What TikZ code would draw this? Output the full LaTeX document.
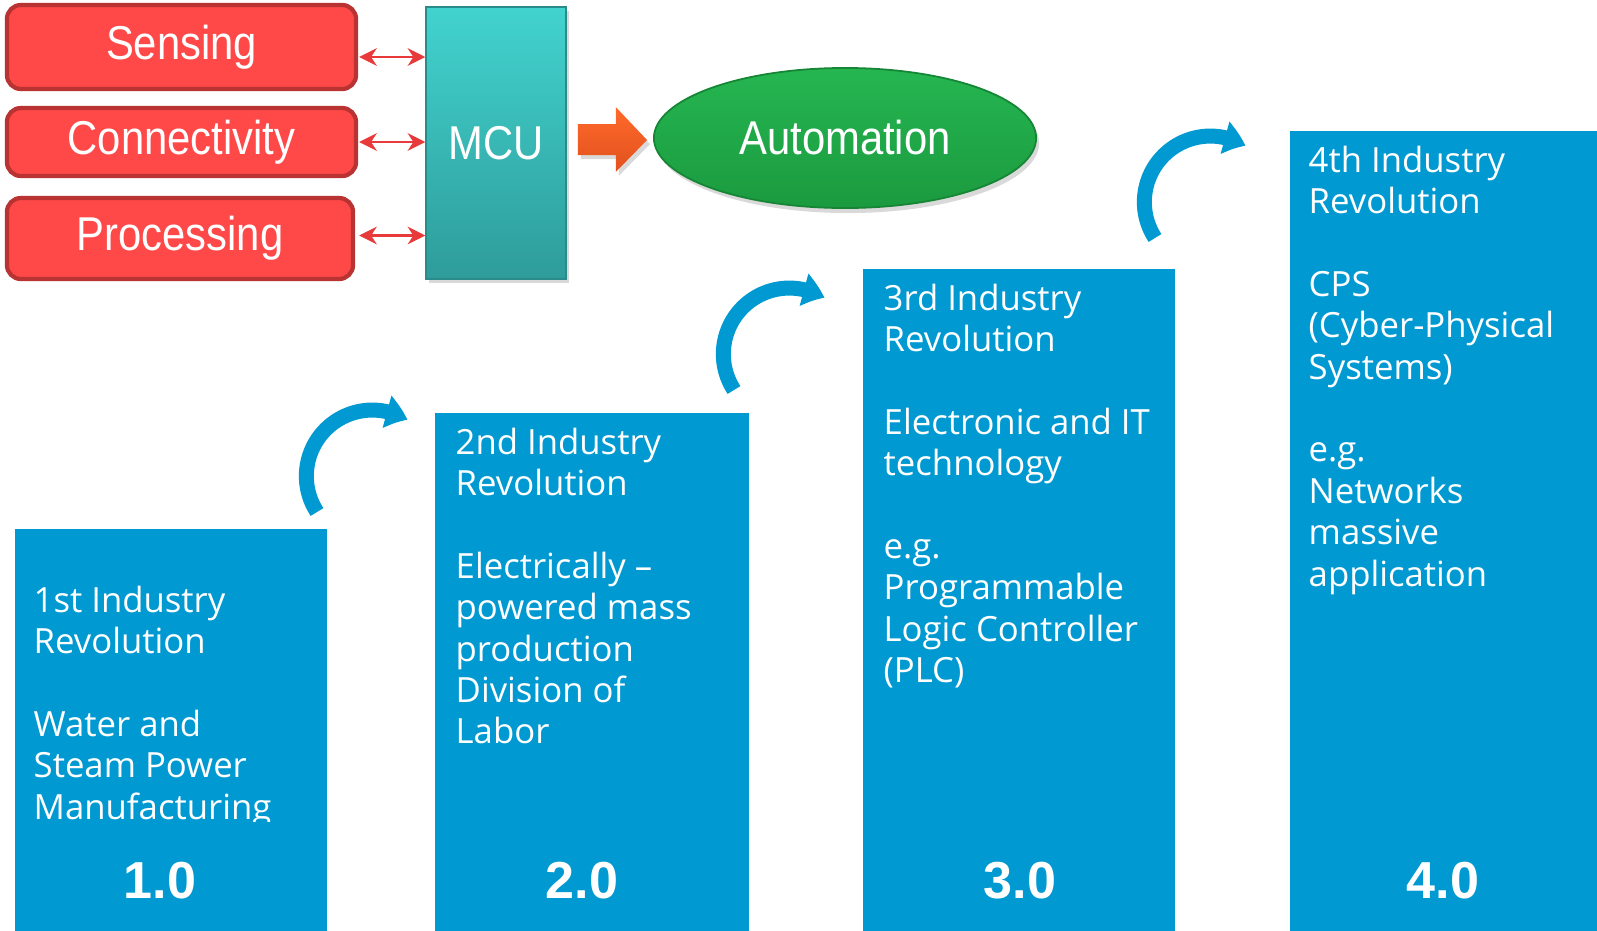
\documentclass[tikz,border=0pt]{standalone}
\usepackage{fontspec}
\setmainfont{Liberation Sans}
\newfontfamily\arialn[FakeStretch=0.88]{Liberation Sans}
\newfontfamily\segoe{Open Sans}
\usetikzlibrary{arrows.meta,bending,shapes.geometric,shadows,calc}
\definecolor{redfill}{HTML}{FF4848}
\definecolor{redline}{HTML}{B93333}
\definecolor{dblred}{HTML}{E83A3A}
\definecolor{tealtop}{HTML}{42D3CF}
\definecolor{tealbot}{HTML}{2E9C9A}
\definecolor{tealline}{HTML}{2A8C8A}
\definecolor{orgtop}{HTML}{FF6A2A}
\definecolor{orgbot}{HTML}{E2511E}
\definecolor{grntop}{HTML}{25B651}
\definecolor{grnbot}{HTML}{1B9A3F}
\definecolor{grnline}{HTML}{168535}
\definecolor{blu}{HTML}{0099D1}
\tikzset{
  redbox/.style={draw=redline, fill=redfill, line width=1.2pt, rounded corners=4pt,
    text=white, font=\arialn\fontsize{13.5}{16}\selectfont, inner sep=0pt},
  mcubox/.style={draw=tealline, top color=tealtop, bottom color=tealbot, line width=0.4pt,
    text=white, font=\arialn\fontsize{13.5}{16}\selectfont, inner sep=0pt,
    drop shadow={opacity=0.3, shadow xshift=0.03cm, shadow yshift=-0.04cm}},
  autoell/.style={ellipse, draw=grnline, top color=grntop, bottom color=grnbot, line width=0.5pt,
    text=white, font=\arialn\fontsize{13.5}{16}\selectfont, inner sep=0pt,
    drop shadow={opacity=0.3, shadow xshift=0.03cm, shadow yshift=-0.05cm}},
  dbl/.style={draw=dblred, line width=0.8pt, {Stealth[length=5pt,width=5pt]}-{Stealth[length=5pt,width=5pt]}},
  bluebox/.style={fill=blu, draw=none, anchor=north west, inner sep=0pt},
  bluetext/.style={anchor=base west, inner sep=0pt, text=white, font=\segoe\fontsize{9.87}{11.78}\selectfont},
  vernum/.style={anchor=base, inner sep=0pt, text=white, font=\bfseries\fontsize{14.8}{17}\selectfont},
  curvarrow/.style={draw=blu, line width=0.15cm, -{Triangle[bend, length=0.22cm, width=0.32cm]}}
}
\begin{document}
\begin{tikzpicture}[x=0.01cm,y=-0.01cm]
\useasboundingbox (0,0) rectangle (1597,930);

% top block diagram
\node[redbox, minimum width=3.49cm, minimum height=0.84cm] (sens) at (181.5,47) {Sensing};
\node[redbox, minimum width=3.49cm, minimum height=0.68cm] (conn) at (181.5,142) {Connectivity};
\node[redbox, minimum width=3.46cm, minimum height=0.81cm] (proc) at (180,238.5) {Processing};
\node[mcubox, minimum width=1.40cm, minimum height=2.72cm] (mcu) at (496,143) {MCU};
\node[autoell, minimum width=3.82cm, minimum height=1.40cm] (auto) at (845,138) {Automation};

\coordinate (s1) at ($(sens.east)+(1,10)$);
\coordinate (c1) at ($(conn.east)+(1,0)$);
\coordinate (p1) at ($(proc.east)+(4,-3)$);
\draw[dbl] (s1) -- (s1 -| mcu.west);
\draw[dbl] (c1) -- (c1 -| mcu.west);
\draw[dbl] (p1) -- (p1 -| mcu.west);

% orange block arrow from MCU to Automation
\coordinate (oa) at ($(mcu.east)+(11,-3)$);
\shade[top color=orgtop, bottom color=orgbot,
  drop shadow={opacity=0.3, shadow xshift=0.03cm, shadow yshift=-0.04cm}]
  ($(oa)+(0,-16)$) -- ($(oa)+(38,-16)$) -- ($(oa)+(38,-33)$) -- ($(auto.west)+(-6,2)$)
  -- ($(oa)+(38,32)$) -- ($(oa)+(38,15)$) -- ($(oa)+(0,15)$) -- cycle;

% blue columns
\node[bluebox, minimum width=3.12cm, minimum height=4.02cm] (b1) at (14,528) {};
\node[bluebox, minimum width=3.14cm, minimum height=5.18cm] (b2) at (434,412) {};
\node[bluebox, minimum width=3.12cm, minimum height=6.62cm] (b3) at (862,268) {};
\node[bluebox, minimum width=3.08cm, minimum height=8.00cm] (b4) at (1289,130) {};

\begin{scope}
\clip (14,528) rectangle (326,821);
\node[bluetext] (t1) at (33,612) {\begin{tabular}[t]{@{}l@{}}1st Industry\\Revolution\\ \\Water and\\Steam Power\\Manufacturing\end{tabular}};
\end{scope}
\node[bluetext] (t2) at (455,454) {\begin{tabular}[t]{@{}l@{}}2nd Industry\\Revolution\\ \\Electrically –\\powered mass\\production\\Division of\\Labor\end{tabular}};
\node[bluetext] (t3) at (883,310) {\begin{tabular}[t]{@{}l@{}}3rd Industry\\Revolution\\ \\Electronic and IT\\technology\\ \\e.g.\\Programmable\\Logic Controller\\(PLC)\end{tabular}};
\node[bluetext] (t4) at (1308,172) {\begin{tabular}[t]{@{}l@{}}4th Industry\\Revolution\\ \\CPS\\(Cyber-Physical\\Systems)\\ \\e.g.\\Networks\\massive\\application\end{tabular}};

\node[vernum] (n1) at (160,898) {1.0};
\node[vernum] (n2) at (582,898) {2.0};
\node[vernum] (n3) at (1020,898) {3.0};
\node[vernum] (n4) at (1443,898) {4.0};

% curved arrows between columns
\coordinate (k1) at ($(372,476)+(-55,36)$);
\coordinate (k2) at ($(789,354)+(-55,36)$);
\coordinate (k3) at ($(1210,202)+(-55,36)$);
\draw[curvarrow] (k1) arc[start angle=147, end angle=302, radius=66];
\draw[curvarrow] (k2) arc[start angle=147, end angle=302, radius=66];
\draw[curvarrow] (k3) arc[start angle=147, end angle=302, radius=66];
\end{tikzpicture}
\end{document}
